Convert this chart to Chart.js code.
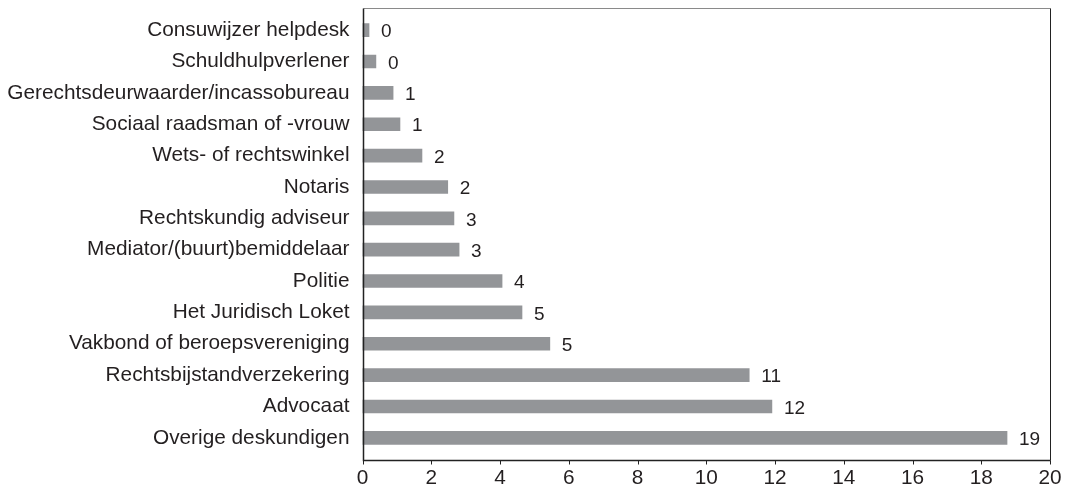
<!DOCTYPE html>
<html>
<head>
<meta charset="utf-8">
<script src="https://cdn.jsdelivr.net/npm/chart.js@4"></script>
<style>
  html, body { margin: 0; padding: 0; background: #fff; }
  #wrap { width: 1067px; height: 486px; position: relative; }
</style>
</head>
<body>
<div id="wrap"><canvas id="chart"></canvas></div>
<script>
const categories = [
  "Consuwijzer helpdesk",
  "Schuldhulpverlener",
  "Gerechtsdeurwaarder/incassobureau",
  "Sociaal raadsman of -vrouw",
  "Wets- of rechtswinkel",
  "Notaris",
  "Rechtskundig adviseur",
  "Mediator/(buurt)bemiddelaar",
  "Politie",
  "Het Juridisch Loket",
  "Vakbond of beroepsvereniging",
  "Rechtsbijstandverzekering",
  "Advocaat",
  "Overige deskundigen"
];
const values = [0.19, 0.39, 0.89, 1.09, 1.73, 2.48, 2.66, 2.81, 4.06, 4.64, 5.45, 11.25, 11.91, 18.75];
const xTicks = [0, 2, 4, 6, 8, 10, 12, 14, 16, 18, 20];

const FONT = "'Liberation Sans', Arial, sans-serif";
const FRAME_PAD = 6.5;

// frame, tick marks and value labels
const extras = {
  id: "extras",
  afterDatasetsDraw(chart) {
    const ctx = chart.ctx;
    const a = chart.chartArea;
    const xs = chart.scales.x;
    const L = Math.round(a.left) + 0.5, R = Math.round(a.right) + 0.5;
    const T = Math.round(a.top - FRAME_PAD) + 0.5, B = Math.round(a.bottom + FRAME_PAD) + 0.5;
    ctx.save();
    ctx.lineWidth = 1;
    ctx.strokeStyle = "#8a8a8a";
    ctx.beginPath();
    ctx.moveTo(L, T); ctx.lineTo(R, T);
    ctx.stroke();
    ctx.strokeStyle = "#222";
    ctx.beginPath();
    ctx.moveTo(R, T); ctx.lineTo(R, B);
    ctx.stroke();
    ctx.lineWidth = 1.5;
    ctx.beginPath();
    ctx.moveTo(L, T); ctx.lineTo(L, B); ctx.lineTo(R, B);
    ctx.stroke();
    ctx.lineWidth = 1;
    xTicks.forEach(v => {
      const px = Math.round(xs.getPixelForValue(v)) + 0.5;
      ctx.beginPath();
      ctx.moveTo(px, B); ctx.lineTo(px, B + 4);
      ctx.stroke();
    });
    ctx.fillStyle = "#231f20";
    ctx.font = "19px " + FONT;
    ctx.textAlign = "left";
    ctx.textBaseline = "middle";
    chart.getDatasetMeta(0).data.forEach((bar, i) => {
      ctx.fillText(String(Math.round(values[i])), bar.x + 12, bar.y + 2);
    });
    ctx.restore();
  }
};

new Chart(document.getElementById("chart"), {
  type: "bar",
  data: {
    labels: categories,
    datasets: [{
      data: values,
      backgroundColor: "#939598",
      borderWidth: 0,
      barThickness: 13
    }]
  },
  options: {
    indexAxis: "y",
    responsive: true,
    maintainAspectRatio: false,
    animation: false,
    layout: { padding: { top: 14.5, right: 17, left: 0, bottom: 0 } },
    plugins: {
      legend: { display: false },
      tooltip: { enabled: false }
    },
    scales: {
      x: {
        min: 0,
        max: 20,
        afterFit(s) { s.height = 32.5; s.paddingLeft = 0; s.paddingRight = 0; },
        afterBuildTicks(s) { s.ticks = xTicks.map(v => ({ value: v })); },
        grid: { display: false, drawTicks: false },
        border: { display: false },
        ticks: {
          color: "#231f20",
          font: { family: FONT, size: 20.8 },
          padding: 12.5,
          maxRotation: 0
        }
      },
      y: {
        afterFit(s) { s.width = 362.5; s.paddingTop = 0; s.paddingBottom = 0; },
        grid: { display: false, drawTicks: false },
        border: { display: false },
        ticks: {
          color: "#231f20",
          font: { family: FONT, size: 20.8 },
          padding: 13,
          autoSkip: false
        }
      }
    }
  },
  plugins: [extras]
});
</script>
</body>
</html>
